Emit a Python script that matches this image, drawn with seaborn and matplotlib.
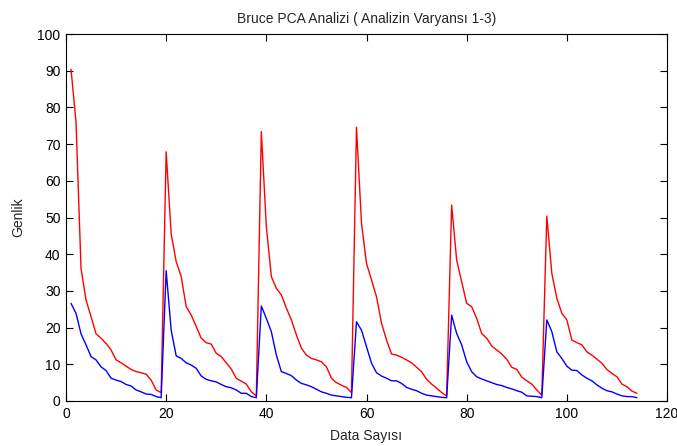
import matplotlib
matplotlib.use("Agg")
import matplotlib.pyplot as plt
import seaborn as sns
import pandas as pd
import numpy as np

x_values = list(range(1, 115))

red_values = [
    90.4, 76.0, 36.1, 27.5, 23.0, 18.3, 17.1, 15.7, 13.9, 11.2, 10.4, 9.5, 8.6, 8.0, 7.7, 7.3, 5.7, 3.0, 2.3,
    67.9, 45.5, 38.0, 33.9, 25.7, 23.4, 20.3, 17.1, 15.9, 15.5, 13.0, 12.1, 10.4, 8.7, 6.2, 5.4, 4.6, 2.5, 1.4,
    73.4, 47.5, 33.9, 30.7, 28.9, 25.3, 22.1, 18.0, 14.4, 12.5, 11.6, 11.2, 10.7, 9.3, 6.2, 5.0, 4.3, 3.7, 2.3,
    74.6, 48.4, 37.5, 33.0, 28.4, 21.2, 16.6, 12.8, 12.5, 11.9, 11.2, 10.4, 9.2, 8.0, 5.9, 4.6, 3.5, 2.3, 1.4,
    53.4, 38.4, 32.5, 26.6, 25.7, 22.5, 18.4, 17.1, 15.0, 13.9, 12.8, 11.4, 9.2, 8.6, 6.5, 5.5, 4.6, 3.0, 1.6,
    50.4, 34.8, 28.0, 23.9, 22.1, 16.6, 15.9, 15.3, 13.4, 12.5, 11.4, 10.3, 8.6, 7.5, 6.6, 4.6, 3.9, 2.7, 2.1,
]

blue_values = [
    26.6, 23.9, 18.3, 15.3, 12.1, 11.2, 9.3, 8.3, 6.2, 5.7, 5.3, 4.5, 4.1, 3.0, 2.5, 1.9, 1.8, 1.2, 0.9,
    35.5, 19.3, 12.3, 11.6, 10.4, 9.8, 8.9, 6.8, 5.9, 5.5, 5.2, 4.5, 3.9, 3.6, 3.0, 2.1, 2.1, 1.2, 0.9,
    25.9, 22.5, 18.9, 12.5, 8.0, 7.5, 6.9, 5.7, 4.8, 4.4, 3.9, 3.2, 2.5, 2.1, 1.6, 1.4, 1.2, 1.0, 0.9,
    21.6, 19.3, 14.8, 10.3, 7.7, 6.8, 6.2, 5.5, 5.5, 4.8, 3.7, 3.2, 2.8, 2.1, 1.6, 1.4, 1.2, 1.0, 0.9,
    23.4, 18.4, 15.3, 10.7, 8.0, 6.6, 6.0, 5.5, 5.0, 4.5, 4.2, 3.7, 3.3, 2.8, 2.4, 1.4, 1.3, 1.2, 0.9,
    22.1, 18.9, 13.4, 11.6, 9.5, 8.4, 8.3, 7.1, 6.2, 5.5, 4.4, 3.5, 2.8, 2.5, 1.9, 1.4, 1.2, 1.2, 0.9,
]

x_ticks = [0, 20, 40, 60, 80, 100, 120]
y_ticks = [0, 10, 20, 30, 40, 50, 60, 70, 80, 90, 100]

title_text = "Bruce PCA Analizi ( Analizin Varyansı 1-3)"
xlabel_text = "Data Sayısı"
ylabel_text = "Genlik"

sns.set_style("white")
plt.rcParams['font.family'] = ['Liberation Sans', 'DejaVu Sans']
plt.rcParams['font.size'] = 10

df = pd.DataFrame({
    "x": x_values + x_values,
    "y": red_values + blue_values,
    "series": ["red"] * len(red_values) + ["blue"] * len(blue_values),
})

fig = plt.figure(figsize=(6.77, 4.46), dpi=100)
ax = fig.add_axes([66/677, 45/446, (667-66)/677, (401-34)/446])

sns.lineplot(data=df, x="x", y="y", hue="series",
             palette={"red": "#ff0000", "blue": "#0000ff"},
             hue_order=["red", "blue"], legend=False, linewidth=1.0,
             ax=ax, estimator=None, sort=False)

ax.set_xlim(0, 120)
ax.set_ylim(0, 100)
ax.set_xticks(x_ticks)
ax.set_yticks(y_ticks)
ax.tick_params(direction="in", length=5, width=0.8, top=True, right=True,
               bottom=True, left=True, labelsize=10, colors="black", pad=4)
for s in ax.spines.values():
    s.set_visible(True)
    s.set_color("black")
    s.set_linewidth(0.8)

ax.set_title(title_text, fontsize=10, pad=8)
ax.set_xlabel(xlabel_text, fontsize=10, labelpad=6)
ax.set_ylabel(ylabel_text, fontsize=10, labelpad=8.5)

fig.savefig("out.png", dpi=100, facecolor="white")
